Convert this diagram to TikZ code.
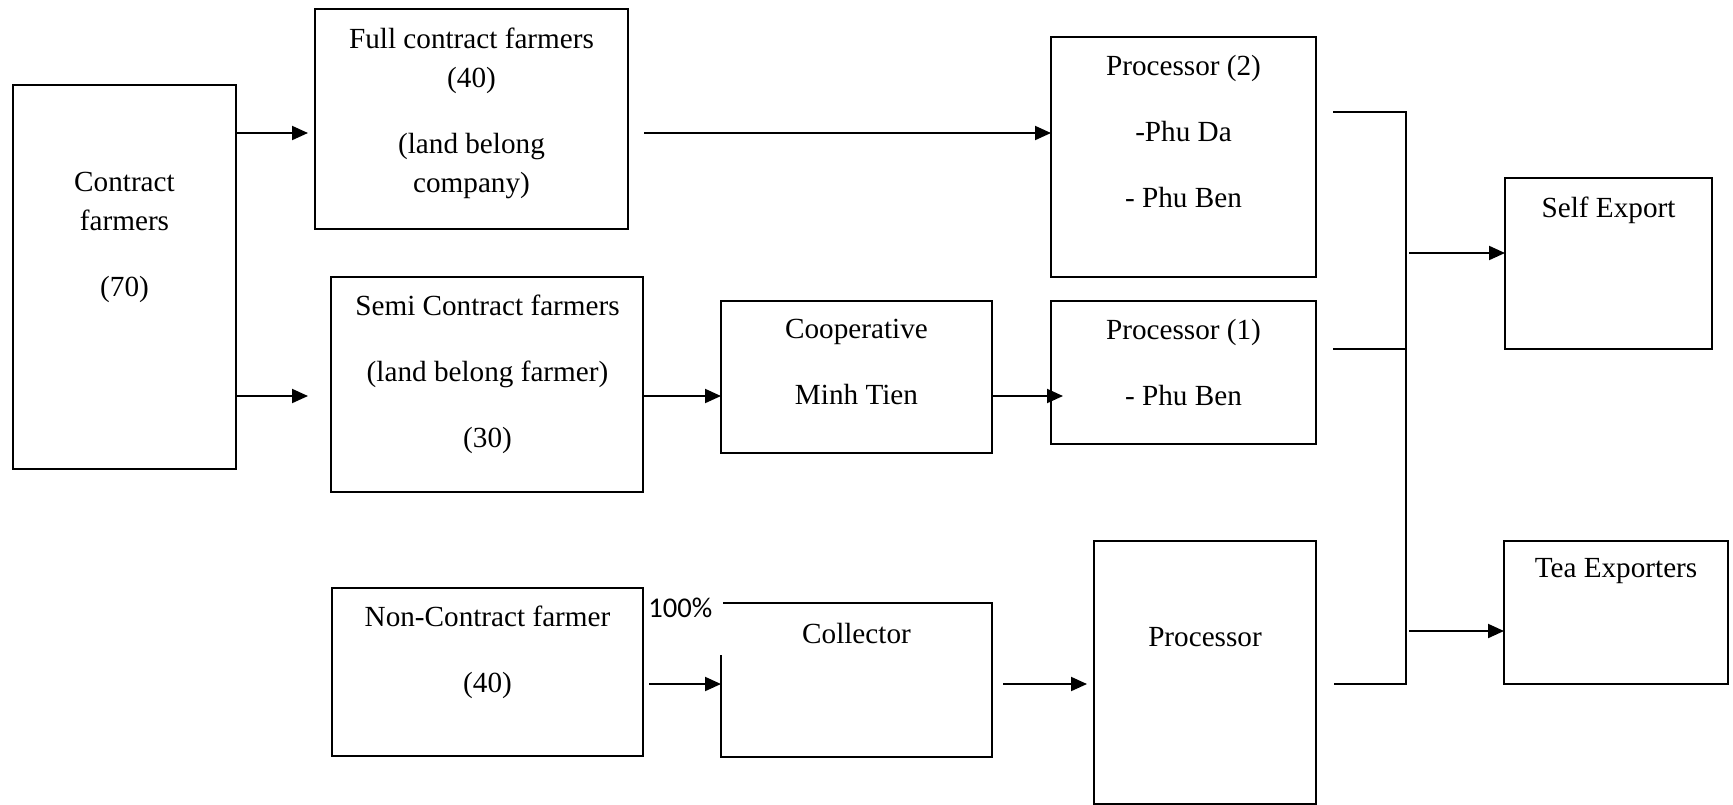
\documentclass[tikz,border=0pt]{standalone}
\usepackage{fontspec}
\setmainfont{Liberation Serif}
\newfontfamily\pctfont{Carlito}
\usetikzlibrary{arrows.meta}

\begin{document}
\begin{tikzpicture}[x=0.5pt, y=-0.5pt,
    box/.style={draw, line width=1pt, inner sep=0pt, outer sep=0pt},
    txt/.style={anchor=north, align=center, inner sep=0pt, font=\fontsize{14.6pt}{19.5pt}\selectfont},
    conn/.style={line width=1pt},
    arr/.style={conn, -{Triangle[length=8pt, width=7pt]}},
    pctlbl/.style={fill=white, anchor=north west, inner xsep=1.5pt, inner ysep=1pt, text width=36pt, align=left, text depth=17.5pt, font=\pctfont\fontsize{14.3pt}{17pt}\selectfont}]
        \useasboundingbox (0,0) rectangle (1733,804);

        \node[box, minimum width=111.5pt, minimum height=192pt] (cf) at (124.5,277) {};
        \node[txt] (cf-txt) at (124.5,172) {Contract\\farmers\\[13.5pt](70)};

        \node[box, minimum width=156.5pt, minimum height=110pt] (fc) at (471.5,119) {};
        \node[txt] (fc-txt) at (471.5,28) {Full contract farmers\\(40)\\[13.5pt](land belong\\company)};

        \node[box, minimum width=156pt, minimum height=107.5pt] (semi) at (487,384.5) {};
        \node[txt] (semi-txt) at (487.5,295) {Semi Contract farmers\\[13.5pt](land belong farmer)\\[13.5pt](30)};

        \node[box, minimum width=155.5pt, minimum height=84pt] (nc) at (487.5,672) {};
        \node[txt] (nc-txt) at (487.5,606) {Non-Contract farmer\\[13.5pt](40)};

        \node[box, minimum width=135.5pt, minimum height=76pt] (coop) at (856.5,377) {};
        \node[txt] (coop-txt) at (856.5,319) {Cooperative\\[13.5pt]Minh Tien};

        \node[box, minimum width=135.5pt, minimum height=77pt] (coll) at (856.5,680) {};
        \node[txt] (coll-txt) at (856.5,623) {Collector};
        \node[pctlbl] (pct) at (645,596) {100\%};

        \node[box, minimum width=132.5pt, minimum height=120pt] (proc2) at (1183.5,157) {};
        \node[txt] (proc2-txt) at (1183.5,55) {Processor (2)\\[13.5pt]-Phu Da\\[13.5pt]- Phu Ben};

        \node[box, minimum width=132.5pt, minimum height=71.5pt] (proc1) at (1183.5,372.5) {};
        \node[txt] (proc1-txt) at (1183.5,319) {Processor (1)\\[13.5pt]- Phu Ben};

        \node[box, minimum width=111pt, minimum height=131.5pt] (proc) at (1205,672.5) {};
        \node[txt] (proc-txt) at (1205,627) {Processor};

        \node[box, minimum width=103.5pt, minimum height=85.5pt] (self) at (1608.5,263.5) {};
        \node[txt] (self-txt) at (1608.5,197) {Self Export};

        \node[box, minimum width=112pt, minimum height=71.5pt] (tea) at (1616,612.5) {};
        \node[txt] (tea-txt) at (1616,558) {Tea Exporters};

        \coordinate (row1) at (0,133);
        \coordinate (row2) at (0,396);
        \coordinate (row3) at (0,684);
        \coordinate (bus-top) at (1406,112);
        \coordinate (bus-mid) at (1406,349);
        \coordinate (bus-bot) at (1406,684);
        \coordinate (to-self) at (1409,253);
        \coordinate (to-tea) at (1409,631);

        \draw[arr, shorten >=3.5pt] (cf.east |- row1) -- (fc.west |- row1);
        \draw[arr, shorten >=11.5pt] (cf.east |- row2) -- (semi.west |- row2);
        \draw[arr, shorten <=8pt] (fc.east |- row1) -- (proc2.west |- row1);
        \draw[arr] (semi.east |- row2) -- (coop.west |- row2);
        \draw[arr, shorten >=-6pt] (coop.east |- row2) -- (proc1.west |- row2);
        \draw[arr, shorten <=3pt] (nc.east |- row3) -- (coll.west |- row3);
        \draw[arr, shorten <=5.5pt, shorten >=3.5pt] (coll.east |- row3) -- (proc.west |- row3);

        \draw[conn] ([xshift=8.5pt]proc2.east |- bus-top) -- (bus-top) -- (bus-bot) -- ([xshift=9pt]proc.east |- bus-bot);
        \draw[conn] ([xshift=8.5pt]proc1.east |- bus-mid) -- (bus-mid);
        \draw[arr] (to-self) -- (self.west |- to-self);
        \draw[arr] (to-tea) -- (tea.west |- to-tea);

    \end{tikzpicture}
\end{document}
